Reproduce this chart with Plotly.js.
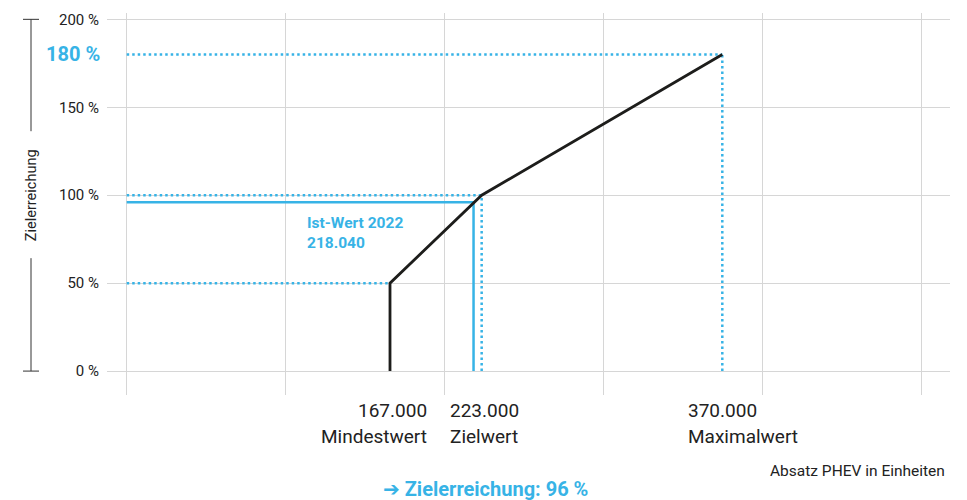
<!DOCTYPE html>
<html>
<head>
<meta charset="utf-8">
<script src="https://cdn.plot.ly/plotly-3.0.1.min.js"></script>
<style>html,body{margin:0;padding:0;background:#fff;}#chart{width:967px;height:500px;}</style>
</head>
<body>
<div id="chart"></div>
<script>
// ---- data ----
const thresholdLabels = ["Mindestwert", "Zielwert", "Maximalwert"];
const thresholdValues = [167000, 223000, 370000];
const thresholdAchievement = [50, 100, 180];
const curveStart = [167000, 0];
const actualLabel = "Ist-Wert 2022";
const actualValue = 218040;
const actualAchievement = 96;
const yTickValues = [0, 50, 100, 150, 200];
const yTickLabels = ["0 %", "50 %", "100 %", "150 %", "200 %"];
const xAxisTitle = "Absatz PHEV in Einheiten";
const yAxisTitle = "Zielerreichung";
const resultText = "➔ Zielerreichung: 96 %";

// ---- styles / layout helpers ----
const BLUE = "#37b3e6";
const BLACK = "#1d1d1b";
const TEXT = "#222222";
const GRID = "#d6d6d6";
const FONT = "Roboto, 'DejaVu Sans', sans-serif";
const gridX = [6150, 103283, 200416, 297549, 394682, 491815];
const xStart = gridX[0];
const fmt = v => v.toLocaleString("de-DE");

const dotted = {color: BLUE, width: 2.5, dash: "2.5px,3px"};
const traces = [];
// dotted guides
thresholdValues.forEach((xv, i) => {
  const yv = thresholdAchievement[i];
  traces.push({x: [xStart, xv], y: [yv, yv], mode: "lines", line: dotted, hoverinfo: "skip", showlegend: false});
  if (i > 0) traces.push({x: [xv, xv], y: [0, yv], mode: "lines", line: dotted, hoverinfo: "skip", showlegend: false});
});
// actual value (solid blue)
traces.push({x: [xStart, actualValue, actualValue], y: [actualAchievement, actualAchievement, 0],
  mode: "lines", line: {color: BLUE, width: 2.5}, hoverinfo: "skip", showlegend: false});
// target curve
traces.push({x: [curveStart[0]].concat(thresholdValues), y: [curveStart[1]].concat(thresholdAchievement),
  mode: "lines", line: {color: BLACK, width: 2.8}, hoverinfo: "skip", showlegend: false});

const L = 107, R = 950, T = 13, B = 395;
const pw = R - L, ph = B - T;
const px = v => (v - L) / pw;       // pixel -> paper x
const py = v => (B - v) / ph;       // pixel -> paper y

const annotations = [];
// x threshold labels
const shifts = [{anchor: "right", shift: 39}, {anchor: "left", shift: -34}, {anchor: "left", shift: -36}];
thresholdValues.forEach((xv, i) => {
  annotations.push({x: xv, xref: "x", y: py(410), yref: "paper", text: fmt(xv), showarrow: false,
    xanchor: shifts[i].anchor, xshift: shifts[i].shift, yanchor: "middle", font: {family: FONT, size: 19, color: TEXT}});
  annotations.push({x: xv, xref: "x", y: py(436.5), yref: "paper", text: thresholdLabels[i], showarrow: false,
    xanchor: shifts[i].anchor, xshift: shifts[i].shift, yanchor: "middle", font: {family: FONT, size: 19, color: TEXT}});
});
// 180 % highlighted label
annotations.push({x: px(102), xref: "paper", y: thresholdAchievement[2], yref: "y", yshift: 1, text: "<b>" + thresholdAchievement[2] + " %</b>",
  showarrow: false, xanchor: "right", yanchor: "middle", font: {family: FONT, size: 20, color: BLUE}});
// actual value label
annotations.push({x: px(305), xref: "paper", y: py(233), yref: "paper",
  text: "<b>" + actualLabel + "<br>" + fmt(actualValue) + "</b>", align: "left",
  showarrow: false, xanchor: "left", yanchor: "middle", font: {family: FONT, size: 15.5, color: BLUE}});
// x axis title
annotations.push({x: px(947), xref: "paper", y: py(471), yref: "paper", text: xAxisTitle, showarrow: false,
  xanchor: "right", yanchor: "middle", font: {family: FONT, size: 15.5, color: TEXT}});
// y axis title
annotations.push({x: px(31), xref: "paper", y: 100, yref: "y", text: yAxisTitle, textangle: -90, showarrow: false,
  xanchor: "center", yanchor: "middle", font: {family: FONT, size: 14.5, color: TEXT}});
// result
annotations.push({x: px(485), xref: "paper", y: py(489), yref: "paper", text: "<b>" + resultText + "</b>", showarrow: false,
  xanchor: "center", yanchor: "middle", font: {family: FONT, size: 20, color: BLUE}});

const axColor = "#333333";
const shapes = [
  {type: "line", xref: "paper", yref: "y", x0: px(31), x1: px(31), y0: 0, y1: 64.2, line: {color: axColor, width: 1}},
  {type: "line", xref: "paper", yref: "y", x0: px(31), x1: px(31), y0: 136.4, y1: 200, line: {color: axColor, width: 1}},
  {type: "line", xref: "paper", yref: "y", x0: px(23), x1: px(39), y0: 0, y1: 0, line: {color: axColor, width: 1}},
  {type: "line", xref: "paper", yref: "y", x0: px(23), x1: px(39), y0: 200, y1: 200, line: {color: axColor, width: 1}}
];

const layout = {
  width: 967, height: 500,
  margin: {l: L, r: 967 - R, t: T, b: 500 - B, pad: 0},
  paper_bgcolor: "#ffffff", plot_bgcolor: "#ffffff",
  font: {family: FONT, color: TEXT},
  showlegend: false,
  xaxis: {range: [-5885, 509100], tickvals: gridX, showticklabels: false, showgrid: true, gridcolor: GRID, gridwidth: 1,
    zeroline: false, showline: false, ticks: "", fixedrange: true},
  yaxis: {range: [-13.6, 203.6], tickvals: yTickValues, ticktext: yTickLabels, showgrid: true, gridcolor: GRID, gridwidth: 1,
    zeroline: false, showline: false, ticks: "", ticklabelstandoff: 7, tickfont: {family: FONT, size: 15, color: TEXT}, fixedrange: true},
  annotations: annotations,
  shapes: shapes
};

Plotly.newPlot("chart", traces, layout, {displayModeBar: false, staticPlot: true});
</script>
</body>
</html>
